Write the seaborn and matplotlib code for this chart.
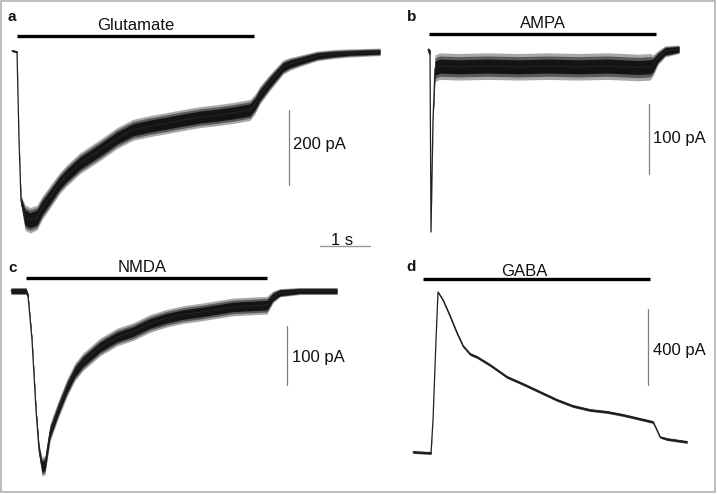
import matplotlib
matplotlib.use("Agg")
import matplotlib.pyplot as plt
import matplotlib.patches as mpatches
import numpy as np
import pandas as pd
import seaborn as sns

sns.set_style("white")
plt.rcParams['font.family'] = ['Liberation Sans', 'DejaVu Sans']

# ---------------- data (time in s, current in pA) ----------------
# Panel a: Glutamate
glu_t = [0, 0.10, 0.14, 0.18, 0.26, 0.36, 0.50, 0.60, 0.76, 0.96, 1.10, 1.36, 1.76, 2.10, 2.42,
         2.76, 3.10, 3.42, 3.76, 4.10, 4.42, 4.76, 4.86, 4.96, 5.16, 5.42, 5.56, 5.76, 6.10, 6.42, 6.76, 7.36]
glu_i = [0, -3, -238, -400, -445, -452, -445, -420, -390, -352, -332, -300, -265, -233, -211,
         -201, -193, -185, -177, -172, -166, -158, -142, -118, -84, -44, -35, -27, -14, -9, -6, -3]
glu_core = [2, 2, 3, 8, 20, 20, 20, 18, 17, 16, 16, 16, 16, 16, 16,
            16, 16, 16, 16, 16, 16, 16, 15, 14, 13, 11, 10, 9, 8, 7, 6, 6]
glu_outer = [3, 3, 5, 14, 34, 34, 33, 31, 30, 28, 28, 28, 28, 28, 28,
             28, 28, 28, 28, 28, 28, 28, 26, 24, 22, 19, 17, 15, 13, 12, 11, 10]

# Panel b: AMPA
ampa_t = [0, 0.04, 0.06, 0.10, 0.14, 0.24, 0.6, 1.2, 1.8, 2.4, 3.0, 3.6, 4.2, 4.44, 4.5, 4.6, 4.74, 5.02]
ampa_i = [0, -3, -260, -100, -26, -23, -24, -23, -24, -23, -24, -23, -25, -24, -22, -11, -2, 1]
ampa_core = [3, 3, 1, 2, 10, 10, 10, 10, 10, 10, 10, 10, 10, 10, 9, 6, 5, 4]
ampa_outer = [4, 4, 2, 4, 19, 19, 19, 19, 19, 19, 19, 19, 19, 19, 15, 10, 8, 6]

# Panel c: NMDA
nmda_t = [0, 0.30, 0.34, 0.42, 0.50, 0.56, 0.62, 0.68, 0.78, 0.94, 1.12, 1.28, 1.44, 1.78, 2.12,
          2.44, 2.78, 3.12, 3.44, 3.78, 4.44, 5.12, 5.24, 5.38, 5.78, 6.52]
nmda_i = [0, 0, -8, -83, -202, -269, -298, -295, -240, -202, -164, -137, -120, -95, -78,
          -69, -55, -46, -40, -36, -27, -24, -10, -3, 0, 0]
nmda_core = [4, 4, 3, 3, 4, 6, 9, 9, 8, 8, 8, 8, 8, 8, 8, 8, 8, 8, 8, 8, 8, 8, 6, 5, 4, 4]
nmda_outer = [6, 6, 4, 4, 6, 10, 16, 16, 15, 15, 15, 15, 15, 15, 15, 15, 15, 15, 15, 15, 15, 15, 10, 7, 6, 6]

# Panel d: GABA
gaba_t = [0, 0.36, 0.40, 0.46, 0.50, 0.60, 0.74, 0.88, 1.00, 1.14, 1.28, 1.54, 1.88, 2.20, 2.54,
          2.88, 3.20, 3.54, 3.88, 4.20, 4.54, 4.80, 4.86, 4.94, 5.08, 5.48]
gaba_i = [0, -5, 168, 589, 842, 800, 716, 626, 558, 516, 500, 458, 395, 358, 316,
          274, 242, 221, 211, 195, 174, 158, 126, 79, 68, 53]
gaba_core = [5, 5, 1, 1, 2, 4, 5, 5, 5, 5, 5, 5, 5, 5, 5, 5, 5, 5, 5, 5, 5, 5, 4, 4, 5, 5]
gaba_outer = [8, 8, 2, 2, 3, 7, 8, 8, 8, 8, 8, 8, 8, 8, 8, 8, 8, 8, 8, 8, 8, 8, 6, 6, 8, 8]

drug_names = ["Glutamate", "AMPA", "NMDA", "GABA"]
panel_letters = ["a", "b", "c", "d"]
scale_labels = ["200 pA", "100 pA", "100 pA", "400 pA"]
scale_values = [200, 100, 100, 400]
drug_on = [0.10, 0.02, 0.30, 0.20]
drug_off = [4.84, 4.56, 5.12, 4.74]
time_scale_label = "1 s"
time_scale_value = 1.0

# ---------------- layout ----------------
W, H = 717, 494
fig = plt.figure(figsize=(W / 100, H / 100), dpi=100)

PX_PER_S = 50.0
# pixel rect (x0, y0, w, h), origin pixel (x at t=0, y at I=0), px per pA
panels = [
    dict(rect=(0, 0, 395, 250), xo=12, yb=50.7, ppa=0.375,
         t=glu_t, i=glu_i, core=glu_core, outer=glu_outer,
         bar_y=36, lab_y=26, let=(12, 17), sb_x=289, sb_top=110, txt_x=293, txt_y=145),
    dict(rect=(395, 0, 322, 250), xo=428, yb=50, ppa=0.7,
         t=ampa_t, i=ampa_i, core=ampa_core, outer=ampa_outer,
         bar_y=34, lab_y=24, let=(412, 17), sb_x=649, sb_top=104, txt_x=653, txt_y=138),
    dict(rect=(0, 250, 395, 244), xo=11, yb=291, ppa=0.59,
         t=nmda_t, i=nmda_i, core=nmda_core, outer=nmda_outer,
         bar_y=278, lab_y=267, let=(13, 268), sb_x=287, sb_top=326, txt_x=292, txt_y=357),
    dict(rect=(395, 250, 322, 244), xo=413, yb=452, ppa=0.19,
         t=gaba_t, i=gaba_i, core=gaba_core, outer=gaba_outer,
         bar_y=279, lab_y=271, let=(411, 267), sb_x=648, sb_top=309, txt_x=653, txt_y=350),
]

lab_x = [136, 543, 142, 524]

for k, p in enumerate(panels):
    x0, y0, w, h = p["rect"]
    ax = fig.add_axes([x0 / W, 1 - (y0 + h) / H, w / W, h / H])
    xo, yb, ppa = p["xo"], p["yb"], p["ppa"]
    tx = lambda px: (px - xo) / PX_PER_S
    iy = lambda py: (yb - py) / ppa

    t = np.array(p["t"], float)
    i = np.array(p["i"], float)
    core = np.array(p["core"], float)
    outer = np.array(p["outer"], float)
    mid = (core + outer) / 2
    ax.fill_between(t, i - outer, i + outer, color="#a8a8a8", lw=0)
    ax.fill_between(t, i - mid, i + mid, color="#5a5a5a", lw=0)
    ax.fill_between(t, i - core, i + core, color="#141414", lw=0)
    df = pd.DataFrame({"t": t, "I": i})
    sns.lineplot(data=df, x="t", y="I", ax=ax, color="#222222", lw=0.9,
                 estimator=None, sort=False)
    ax.set_xlim(tx(x0), tx(x0 + w))
    ax.set_ylim(iy(y0 + h), iy(y0))
    ax.axis("off")

    # drug application bar
    by = iy(p["bar_y"])
    ax.plot([drug_on[k], drug_off[k]], [by, by], color="black", lw=2.4,
            solid_capstyle="butt")
    ax.text(tx(lab_x[k]), iy(p["lab_y"]), drug_names[k], ha="center", va="center",
            fontsize=12, color="#111111")
    # panel letter
    ax.text(tx(p["let"][0]), iy(p["let"][1]), panel_letters[k], ha="center", va="center",
            fontsize=11, fontweight="bold", color="#111111")
    # current scale bar
    top = iy(p["sb_top"])
    ax.plot([tx(p["sb_x"])] * 2, [top, top - scale_values[k]], color="#808080", lw=0.9)
    ax.text(tx(p["txt_x"]), iy(p["txt_y"]), scale_labels[k], ha="left", va="center",
            fontsize=12, color="#111111")

    if k == 0:
        # time scale bar
        sy = iy(246)
        sx0 = tx(320)
        ax.plot([sx0, sx0 + time_scale_value], [sy, sy], color="#999999", lw=1.0)
        ax.text(sx0 + time_scale_value / 2 - 0.06, iy(245), time_scale_label,
                ha="center", va="baseline", fontsize=12, color="#111111")

# light grey frame around the figure
fig.add_artist(mpatches.Rectangle((0.6 / W, 1 - 492 / H), (715 - 0.6) / W, (492 - 0.6) / H,
                                  transform=fig.transFigure, fill=False,
                                  ec="#b8b8b8", lw=1.3))

fig.savefig("out.png", dpi=100)
